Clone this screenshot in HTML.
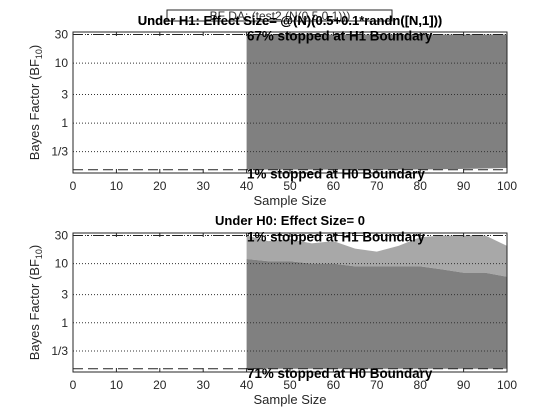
<!DOCTYPE html>
<html><head><meta charset="utf-8"><style>
body{margin:0;background:#fff;}
svg{display:block;font-family:"Liberation Sans",Arial,sans-serif;}
</style></head><body>
<svg id="chart" width="560" height="420" viewBox="0 0 560 420"></svg>
<script>
const xTicks=[0,10,20,30,40,50,60,70,80,90,100];
const yTicks=[30,10,3,1,1/3];
const yTickLabels=["30","10","3","1","1/3"];
const h1Boundary=30;
const h0Boundary=1/6;
const minN=40;
const p1X=[40,50,60,70,80,85,90,95,100];
const p1Upper=[30,30,30,30,30,30,30,30,30];
const p1Lower=[0.167,0.167,0.167,0.167,0.168,0.17,0.172,0.175,0.178];
const p2X=[40,45,50,55,60,65,70,75,80,85,90,95,100];
const p2Dense=[12,11,11,10,10,9,9,9,9,8,7,7,6];
const p2Max=[30,24,26,22,24,18,16,20,28,30,30,30,20];
const p2Lower=[0.167,0.167,0.167,0.167,0.167,0.167,0.167,0.167,0.167,0.167,0.167,0.167,0.167];
const panels=[
 {name:"h1",top:32,bottom:173,title:"Under H1: Effect Size= @(N)(0.5+0.1*randn([N,1]))",titleY:25,topNote:"67% stopped at H1 Boundary",botNote:"1% stopped at H0 Boundary"},
 {name:"h0",top:233,bottom:372,title:"Under H0: Effect Size= 0",titleY:225,topNote:"1% stopped at H1 Boundary",botNote:"71% stopped at H0 Boundary"}
];
const NS="http://www.w3.org/2000/svg";
const svg=document.getElementById('chart');
function mk(t,a,p){const e=document.createElementNS(NS,t);for(const k in a)e.setAttribute(k,a[k]);(p||svg).appendChild(e);return e;}
const L=73,R=507;
const sx=v=>L+(v/100)*(R-L);
panels.forEach((P,pi)=>{
 const yMax=33,yMin=0.147;
 const sy=v=>P.top+(Math.log10(yMax)-Math.log10(v))/(Math.log10(yMax)-Math.log10(yMin))*(P.bottom-P.top);
 const g=mk('g',{});
 
 
 if(pi===0){
  let d="M"+p1X.map((x,i)=>sx(x)+","+sy(p1Upper[i])).join(" L")+" L"+p1X.slice().reverse().map((x,i)=>sx(x)+","+sy(p1Lower[p1X.length-1-i])).join(" L")+"Z";
  const a=mk('path',{d:d,fill:'#808080'},g);
  
  
 }else{
  let d="M"+p2X.map((x,i)=>sx(x)+","+sy(p2Max[i])).join(" L")+" L"+p2X.slice().reverse().map((x,i)=>sx(x)+","+sy(p2Dense[p2X.length-1-i])).join(" L")+"Z";
  const b=mk('path',{d:d,fill:'#a8a8a8'},g);
  
  
  let d2="M"+p2X.map((x,i)=>sx(x)+","+sy(p2Dense[i])).join(" L")+" L"+p2X.slice().reverse().map((x,i)=>sx(x)+","+sy(p2Lower[p2X.length-1-i])).join(" L")+"Z";
  const a=mk('path',{d:d2,fill:'#808080'},g);
  
  
 }
 yTicks.forEach((v,i)=>{
  const l=mk('line',{x1:L,x2:R,y1:sy(v),y2:sy(v),stroke:'#333','stroke-width':1,'stroke-dasharray':'1,2'},g);
  
  
  const t=mk('text',{x:68,y:sy(v)+4,'text-anchor':'end','font-size':12,fill:'#262626'},g);
  t.textContent=yTickLabels[i];
  
  
 });
 const hb=mk('line',{x1:L,x2:R,y1:sy(h1Boundary),y2:sy(h1Boundary),stroke:'#222','stroke-width':1,'stroke-dasharray':'10,4,2,4'},g);
 
 
 const lb=mk('line',{x1:L,x2:R,y1:sy(h0Boundary),y2:sy(h0Boundary),stroke:'#222','stroke-width':1,'stroke-dasharray':'10,5'},g);
 
 
 const box=mk('rect',{x:L,y:P.top,width:R-L,height:P.bottom-P.top,fill:'none',stroke:'#262626','stroke-width':1},g);
 
 
 xTicks.forEach(v=>{
  mk('line',{x1:sx(v),x2:sx(v),y1:P.bottom,y2:P.bottom-4,stroke:'#262626'},g);
  mk('line',{x1:sx(v),x2:sx(v),y1:P.top,y2:P.top+4,stroke:'#262626'},g);
  const t=mk('text',{x:sx(v),y:P.bottom+17,'text-anchor':'middle','font-size':12,fill:'#262626'},g);
  t.textContent=v;
  
  
 });
 const xl=mk('text',{x:290,y:P.bottom+32,'text-anchor':'middle','font-size':13,fill:'#262626'},g);
 xl.textContent="Sample Size";
 
 
 const cy=(P.top+P.bottom)/2;
 const yl=mk('text',{x:0,y:0,transform:`translate(39,${cy}) rotate(-90)`,'text-anchor':'middle','font-size':13,fill:'#262626'},g);
 yl.innerHTML='Bayes Factor (BF<tspan font-size="9" dy="3">10</tspan><tspan dy="-3">)</tspan>';
 
 
 const ti=mk('text',{x:290,y:P.titleY,'text-anchor':'middle','font-size':13,'font-weight':'bold',fill:'#000'},g);
 ti.textContent=P.title;
 
 
 const n1=mk('text',{x:247,y:sy(h1Boundary)+6,'font-size':13.4,'font-weight':'bold',fill:'#000'},g);
 n1.textContent=P.topNote;
 
 
 const n2=mk('text',{x:247,y:sy(h0Boundary)+9,'font-size':13.4,'font-weight':'bold',fill:'#000'},g);
 n2.textContent=P.botNote;
 
 
});
const lg=mk('rect',{x:167,y:10,width:225,height:11,fill:'#fff',stroke:'#262626','stroke-width':1});


const lt=mk('text',{x:280,y:20,'text-anchor':'middle','font-size':12,fill:'#333'});
lt.textContent="BF DA: (test2 (N(0.5,0.1)))";


const t2=mk('text',{x:290,y:25,'text-anchor':'middle','font-size':13,'font-weight':'bold',fill:'#000'});
t2.textContent="Under H1: Effect Size= @(N)(0.5+0.1*randn([N,1]))";


</script>
</body></html>
